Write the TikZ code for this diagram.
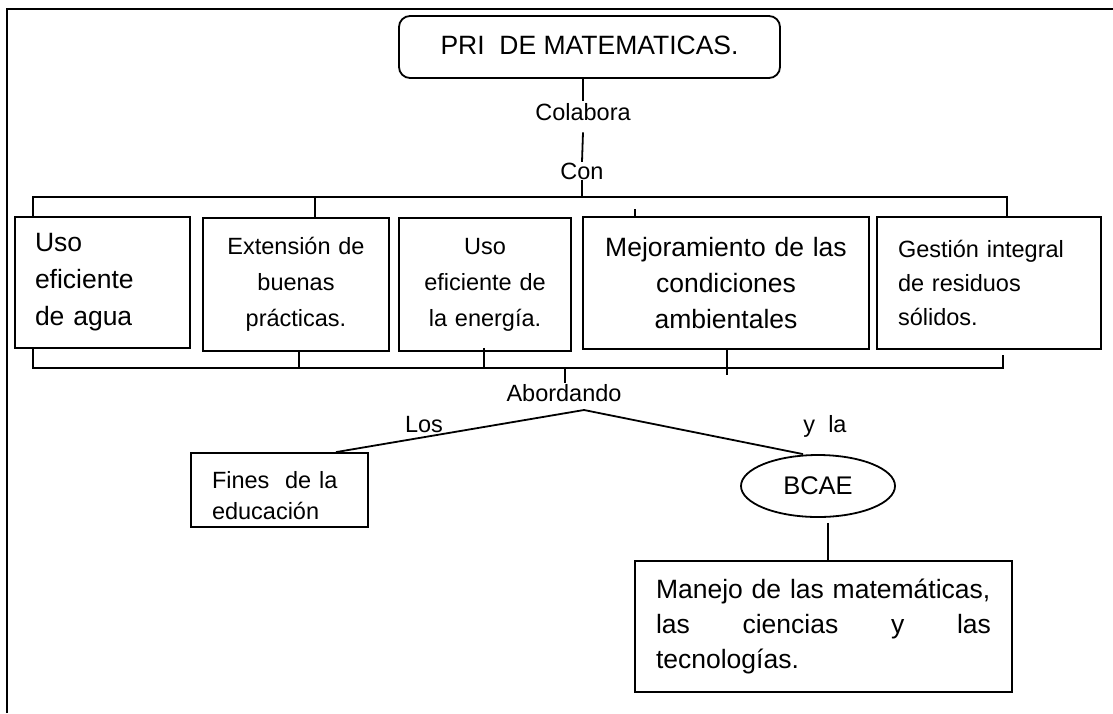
\documentclass[tikz,border=0pt]{standalone}
\usepackage{fontspec}
\setmainfont{Liberation Sans}
\usetikzlibrary{shapes.geometric,calc}
\newcommand\fBig{\fontsize{26.5}{37}\selectfont}
\newcommand\fSmall{\fontsize{23.5}{36}\selectfont}
\begin{document}
\begin{tikzpicture}[x=1pt,y=-1pt,
  ln/.style={line width=1.8pt},
  box/.style={draw, line width=1.8pt, inner sep=0pt, rectangle},
  lbl/.style={inner sep=1pt, font=\fSmall, anchor=base}]
\useasboundingbox (0,0) rectangle (1113,713);
% frame
\draw[line width=2.6pt] (7,713) -- (7,9) -- (1113,9);
% title
\node[box, rounded corners=11pt, minimum width=381, minimum height=62, font=\fBig] (title) at (589.5,47) {\raisebox{3pt}{PRI\ \ DE MATEMATICAS.}};
\node[lbl, inner sep=2pt] (colabora) at (583,120) {Colabora};
\node[lbl, inner sep=0.5pt] (con) at (582,179) {Con};
% boxes
\node[box, minimum width=175, minimum height=131, text width=135, align=left, font=\fBig] (b1) at (102.5,282.5) {Uso\\ eficiente\\ de agua};
\node[box, minimum width=186, minimum height=133, text width=170, align=center, font=\fSmall] (b2) at (296,284.5) {Extensión de\\ buenas\\ prácticas.};
\node[box, minimum width=172, minimum height=133, text width=160, align=center, font=\fSmall] (b3) at (485,284.5) {Uso\\ eficiente de\\ la energía.};
\node[box, minimum width=286, minimum height=132, text width=270, align=center, font=\fontsize{26.5}{36}\selectfont] (b4) at (726,283) {Mejoramiento de las\\ condiciones\\ ambientales};
\node[box, minimum width=224, minimum height=132, text width=182, align=left, font=\fontsize{23.5}{34}\selectfont] (b5) at (989,283) {Gestión integral\\ de residuos\\ sólidos.};
% top connectors
\coordinate (busL) at (33,197);
\coordinate (busR) at (1007,197);
\draw[ln] (colabora.north) -- (colabora.north |- title.south);
\draw[ln] ([yshift=-10pt]colabora.south) -- (con.north);
\draw[ln] (con.south) -- (con.south |- busL);
\draw[ln] (b1.north -| busL) -- (busL) -- (busR) -- (b5.north -| busR);
\draw[ln] (busL -| 315,0) -- (b2.north -| 315,0);
\draw[ln] (635,209) -- (b4.north -| 635,0);
% bottom connectors
\coordinate (botL) at (33,368);
\coordinate (botR) at (1003,368);
\node[lbl] (abordando) at (564,401) {Abordando};
\draw[ln] (b1.south -| botL) -- (botL) -- (botR) -- ([yshift=-5pt]b5.south -| botR);
\draw[ln] (b2.south -| 299,0) -- (botL -| 299,0);
\draw[ln] ([yshift=4pt]b3.south -| 484,0) -- (botL -| 484,0);
\draw[ln] (b4.south -| 727,0) -- (727,375);
\draw[ln] (botL -| 565,0) -- (abordando.north -| 565,0);
% lower part
\node[box, minimum width=177, minimum height=74, text width=135, align=left, font=\fontsize{23.5}{31}\selectfont] (fines) at (279.5,490) {\rule{0pt}{28pt}Fines\ \ de la\\ educación};
\node[draw, line width=1.8pt, ellipse, minimum width=154, minimum height=62, inner sep=0pt, font=\fontsize{25.5}{30}\selectfont] (bcae) at (818,486) {BCAE};
\node[box, minimum width=377, minimum height=131, text width=335, align=left, font=\fontsize{26.5}{35}\selectfont] (manejo) at (823.5,626.5) {Manejo de las matemáticas,\\ \leavevmode\hbox to \linewidth{las\hfill ciencias\hfill y\hfill las}\\ tecnologías.};
\coordinate (apex) at (584,410);
\draw[ln] (fines.north -| 336,0) -- (apex) -- (bcae.north -| 803,0);
\node[lbl] (los) at (424,432) {Los};
\node[lbl] (yla) at (825,432) {y\ \ la};
\draw[ln] ([yshift=-5pt]bcae.south -| 828,0) -- (manejo.north -| 828,0);
\end{tikzpicture}
\end{document}
